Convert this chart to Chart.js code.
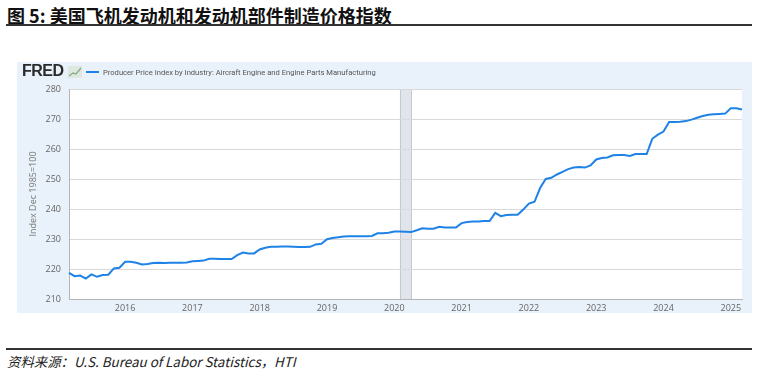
<!DOCTYPE html>
<html>
<head>
<meta charset="utf-8">
<script src="https://cdn.jsdelivr.net/npm/chart.js@4.4.1/dist/chart.umd.min.js"></script>
<style>
  body { margin: 0; width: 757px; height: 373px; background: #fff; position: relative; overflow: hidden; }
  #title { position: absolute; left: 7px; top: 2px; font: bold 18px "Noto Sans CJK SC", sans-serif; color: #111; white-space: nowrap; }
  .rule { position: absolute; left: 6px; width: 746px; background: #333; }
  #panel { position: absolute; left: 17px; top: 62px; width: 735px; height: 251px; background: #e9f1fa; }
  #logo { position: absolute; left: 5px; top: 0px; font: 900 16px "Liberation Sans", Arial, sans-serif; color: #2a2a2a; letter-spacing: -0.5px; }
  #icon { position: absolute; left: 51px; top: 4px; }
  #legend { position: absolute; left: 69px; top: 6px; font: 7.6px Roboto, sans-serif; color: #555; white-space: nowrap; }
  #legend span { display: inline-block; width: 13px; height: 2px; background: #1f82e6; vertical-align: middle; margin-right: 4px; position: relative; top: -1px; }
  canvas { position: absolute; left: 0; top: 0; }
  #source { position: absolute; left: 7px; top: 351px; font: italic 13.4px "Noto Sans CJK SC", "Liberation Sans", sans-serif; color: #222; white-space: nowrap; }
</style>
</head>
<body>
<div id="title">图 5: 美国飞机发动机和发动机部件制造价格指数</div>
<div class="rule" style="top:24px;height:1.5px"></div>
<div id="panel">
  <canvas id="chart" width="735" height="251"></canvas>
  <div id="logo">FRED</div>
  <svg id="icon" width="14" height="12"><rect x="0" y="0" width="14" height="12" fill="#dfe8e0"/><polyline points="1,10 5,7 8,8 13,2" fill="none" stroke="#8bb08f" stroke-width="1.5"/></svg>
  <div id="legend"><span></span>Producer Price Index by Industry: Aircraft Engine and Engine Parts Manufacturing</div>
</div>
<div class="rule" style="top:348px;height:1.5px"></div>
<div id="source">资料来源：U.S. Bureau of Labor Statistics，HTI</div>

<script>
// monthly, Mar 2015 - Mar 2025
const firstYear = 2015, firstMonth = 3;
const ppiValues = [
  218.7, 217.6, 217.8, 216.8, 218.2, 217.4, 218.0, 218.1, 220.2, 220.4,
  222.4, 222.4, 222.1, 221.5, 221.7, 222.0, 222.1, 222.0, 222.1, 222.1, 222.1, 222.2,
  222.6, 222.7, 222.8, 223.4, 223.4, 223.3, 223.3, 223.3, 224.6, 225.5, 225.2, 225.2,
  226.5, 227.1, 227.4, 227.4, 227.5, 227.5, 227.4, 227.3, 227.3, 227.4, 228.2, 228.4,
  229.9, 230.3, 230.6, 230.8, 230.9, 230.9, 230.9, 230.9, 231.0, 231.9, 231.9, 232.1,
  232.5, 232.5, 232.4, 232.3, 232.9, 233.6, 233.4, 233.4, 234.1, 233.8, 233.8, 233.8,
  235.3, 235.7, 235.8, 235.8, 236.0, 236.0, 238.7, 237.6, 238.0, 238.1, 238.1, 239.8,
  241.8, 242.4, 247.0, 250.0, 250.4, 251.5, 252.4, 253.3, 253.8, 254.0, 253.8, 254.5,
  256.5, 257.0, 257.2, 257.9, 258.0, 258.0, 257.7, 258.3, 258.3, 258.3, 263.4, 264.8,
  265.8, 269.0, 269.0, 269.1, 269.3, 269.8, 270.4, 271.0, 271.4, 271.6, 271.7, 271.8,
  273.6, 273.6, 273.2
];
const months = ppiValues.map((v, i) => {
  const m = firstMonth - 1 + i;
  const y = firstYear + Math.floor(m / 12);
  return y + '-' + String(m % 12 + 1).padStart(2, '0');
});
const yTicks = [210, 220, 230, 240, 250, 260, 270, 280];
const recession = ['2020-02', '2020-04'];

const plotBg = {
  id: 'plotBg',
  beforeDraw(chart) {
    const { ctx, chartArea: a, scales } = chart;
    ctx.save();
    ctx.fillStyle = '#ffffff';
    ctx.fillRect(a.left, a.top, a.right - a.left, a.bottom - a.top);
    const x0 = scales.x.getPixelForValue(months.indexOf(recession[0]));
    const x1 = scales.x.getPixelForValue(months.indexOf(recession[1]));
    ctx.fillStyle = '#e0e5eb';
    ctx.fillRect(x0, a.top, x1 - x0, a.bottom - a.top);
    ctx.strokeStyle = '#c4c9cf';
    ctx.lineWidth = 1;
    ctx.beginPath();
    ctx.moveTo(Math.round(x0) + 0.5, a.top); ctx.lineTo(Math.round(x0) + 0.5, a.bottom);
    ctx.moveTo(Math.round(x1) + 0.5, a.top); ctx.lineTo(Math.round(x1) + 0.5, a.bottom);
    ctx.stroke();
    ctx.restore();
  }
};

new Chart(document.getElementById('chart'), {
  type: 'line',
  data: {
    labels: months,
    datasets: [{
      label: 'Producer Price Index by Industry: Aircraft Engine and Engine Parts Manufacturing',
      data: ppiValues,
      borderColor: '#1f82e6',
      borderWidth: 2,
      pointRadius: 0,
      tension: 0,
      fill: false
    }]
  },
  options: {
    responsive: false,
    devicePixelRatio: 1,
    animation: false,
    layout: { padding: { top: 27, right: 10, left: 0, bottom: 0 } },
    plugins: { legend: { display: false }, tooltip: { enabled: false } },
    scales: {
      x: {
        offset: false,
        grid: { display: false, drawTicks: false },
        border: { display: true, color: '#b5b5b5' },
        ticks: {
          autoSkip: false, maxRotation: 0, padding: 4,
          color: '#666', font: { family: 'Open Sans', size: 9 },
          callback: function (v) {
            const s = months[v];
            return s.endsWith('-01') ? s.slice(0, 4) : null;
          }
        },
        afterFit(scale) { scale.height = 14; }
      },
      y: {
        min: 210, max: 280,
        afterBuildTicks(scale) { scale.ticks = yTicks.map(v => ({ value: v })); },
        grid: { color: '#d9d9d9', drawTicks: false },
        border: { display: true, color: '#b5b5b5' },
        ticks: { padding: 8, color: '#666', font: { family: 'Open Sans', size: 9 } },
        title: {
          display: true, text: 'Index Dec 1985=100', color: '#777',
          font: { family: 'Open Sans', size: 9 }, padding: { top: 11, bottom: 0 }
        },
        afterFit(scale) { scale.width = 52; }
      }
    }
  },
  plugins: [plotBg]
});
</script>
</body>
</html>
